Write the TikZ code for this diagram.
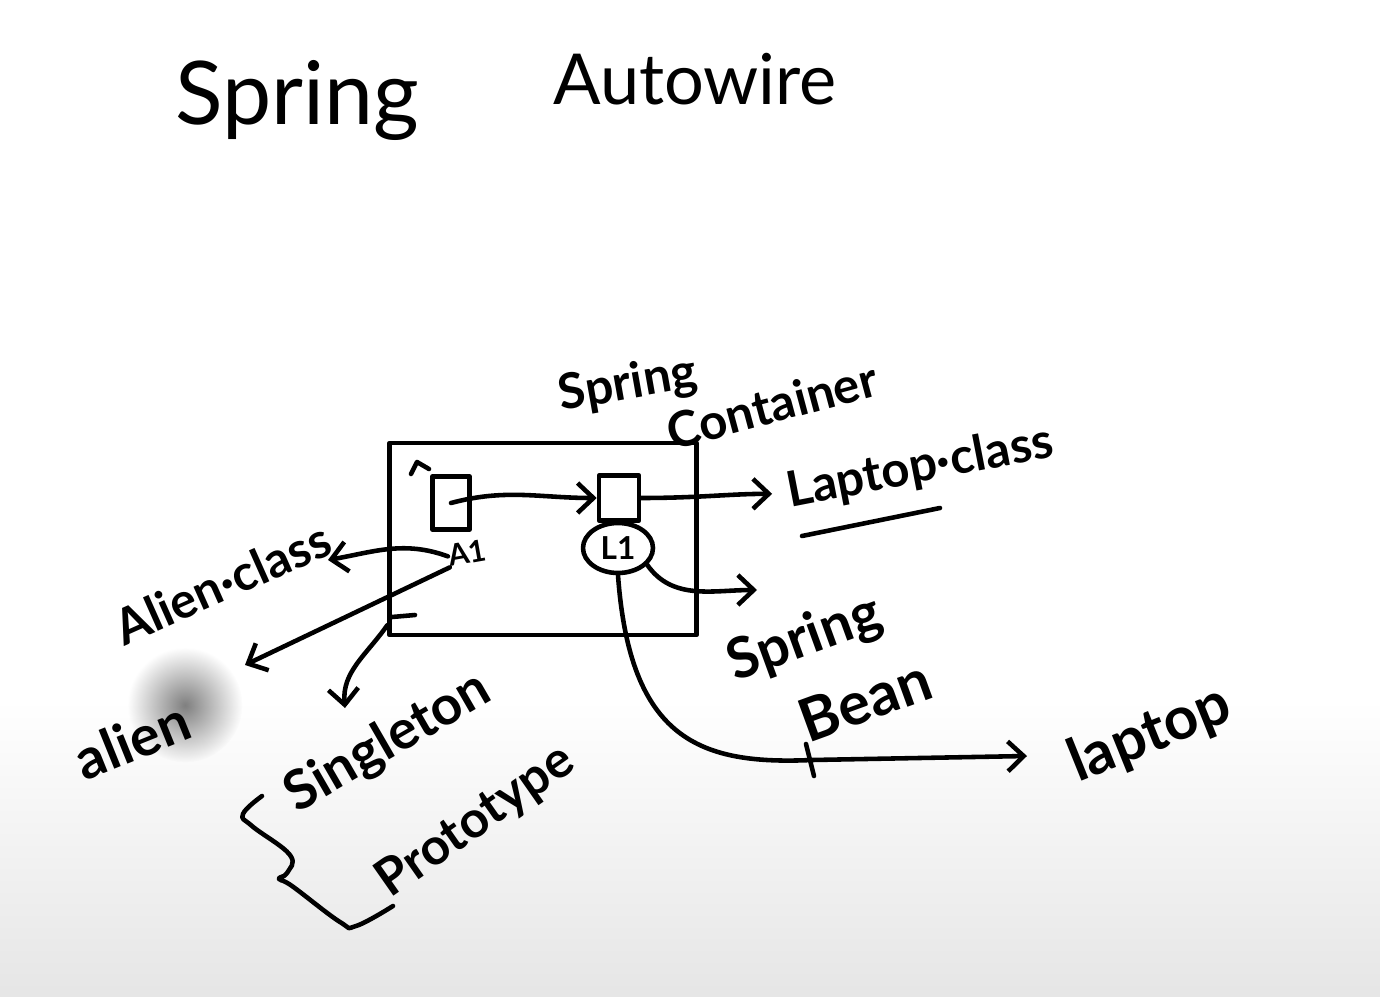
\documentclass[tikz,border=0pt]{standalone}
\usepackage{fontspec}
\setmainfont{Lato}
\usepackage{tikz}
\usetikzlibrary{arrows.meta,shapes.geometric,fadings}

\tikzfading[name=blobfade, inner color=transparent!50, outer color=transparent!100]

\tikzset{
    pen/.style={line width=2.6pt, line cap=round, line join=round},
    arr/.style={pen, -{Straight Barb[length=9pt,width=17pt,line width=2.6pt]}},
    lab/.style={font=\fontsize{28}{32}\selectfont\bfseries, inner sep=0pt},
    ttl/.style={font=\fontsize{50}{58}\selectfont, inner sep=0pt, anchor=base west},
    objbox/.style={pen, draw, inner sep=0pt}
}

\begin{document}
\begin{tikzpicture}[x=0.02cm, y=-0.02cm]

            % Background of the board, a little grey at the bottom
            \fill[white] (0,0) rectangle (1380,997);
            \shade[top color=white, bottom color=black!10] (0,700) rectangle (1380,997);
            \useasboundingbox (0,0) rectangle (1380,997);
            \fill[black, path fading=blobfade] (185,705) circle (1.15cm);

            % Title
            \node[ttl] (ttlspring) at (175,125) {Spring};
            \node[ttl, font=\fontsize{40}{48}\selectfont] (ttlauto) at (553,105) {Autowire};

            % The container and its objects
            \node[objbox, minimum width=6.14cm, minimum height=3.84cm] (box) at (543,539) {};
            \node[lab, rotate=10] (cspring) at (628,385) {Spring};
            \node[lab, rotate=15] (ccont) at (772,405) {Container};

            \node[objbox, minimum width=0.74cm, minimum height=1.06cm] (abox) at (451,503) {};
            \node[lab, font=\fontsize{17}{20}\selectfont\bfseries, rotate=10] (alab) at (467,553) {A1};
            \draw[pen] (411,474) -- (417,462) -- (429,469);

            \node[objbox, minimum width=0.8cm, minimum height=0.9cm] (lbox) at (619,498) {};
            \node[objbox, ellipse, minimum width=1.4cm, minimum height=1.0cm,
                font=\fontsize{18}{20}\selectfont\bfseries] (lcirc) at (618,548) {L1};

            % Labels round the container
            \node[lab, rotate=11] (lcls) at (920,468) {Laptop·class};
            \node[lab, rotate=24] (acls) at (222,583) {Alien·class};
            \node[lab, font=\fontsize{32}{36}\selectfont\bfseries, rotate=22] (aln) at (132,740) {alien};
            \node[lab, font=\fontsize{31}{36}\selectfont\bfseries, rotate=30] (sgl) at (388,743) {Singleton};
            \node[lab, font=\fontsize{29}{34}\selectfont\bfseries, rotate=35] (prt) at (476,822) {Prototype};
            \node[lab, font=\fontsize{32}{36}\selectfont\bfseries, rotate=20] (bspring) at (805,640) {Spring};
            \node[lab, font=\fontsize{34}{38}\selectfont\bfseries, rotate=20] (bbean) at (865,700) {Bean};
            \node[lab, font=\fontsize{34}{38}\selectfont\bfseries, rotate=22] (lap) at (1150,735) {laptop};

            % Free ends of the arrows
            \coordinate (acend) at (328,560);
            \coordinate (alnend) at (245,665);
            \coordinate (sgend) at (345,708);
            \coordinate (beanend) at (757,590);
            \coordinate (tk) at (812,760);
            \coordinate (lapend) at (1027,756);

            % Arrows
            \draw[arr] (abox.center) to[out=15, in=180] (lbox.west);
            \draw[arr, shorten >=0.3cm] (lbox.east) to[out=0, in=180] (lcls.west);
            \draw[arr] (alab.west) to[out=160, in=10] (acend);
            \draw[arr] (alab.south west) -- (alnend);
            \draw[pen] (392,617) -- (415,615);
            \draw[arr] ([shift={(0,-12)}]box.south west) to[out=235, in=95] (sgend);
            \draw[arr] (lcirc.-30) to[out=-55, in=180] (beanend);
            \draw[arr] (lcirc.south) .. controls (630,740) and (700,765) .. (tk) -- (lapend);
            \draw[pen] (806,744) -- (814,776);

            % Underline and brace
            \draw[pen] (802,536) -- (940,508);
            \draw[pen] plot[smooth, tension=0.7] coordinates {(262,796) (243,814) (252,826)
                (290,855) (287,873) (279,879) (292,886) (340,922) (356,926) (393,906)};

\end{tikzpicture}
\end{document}
